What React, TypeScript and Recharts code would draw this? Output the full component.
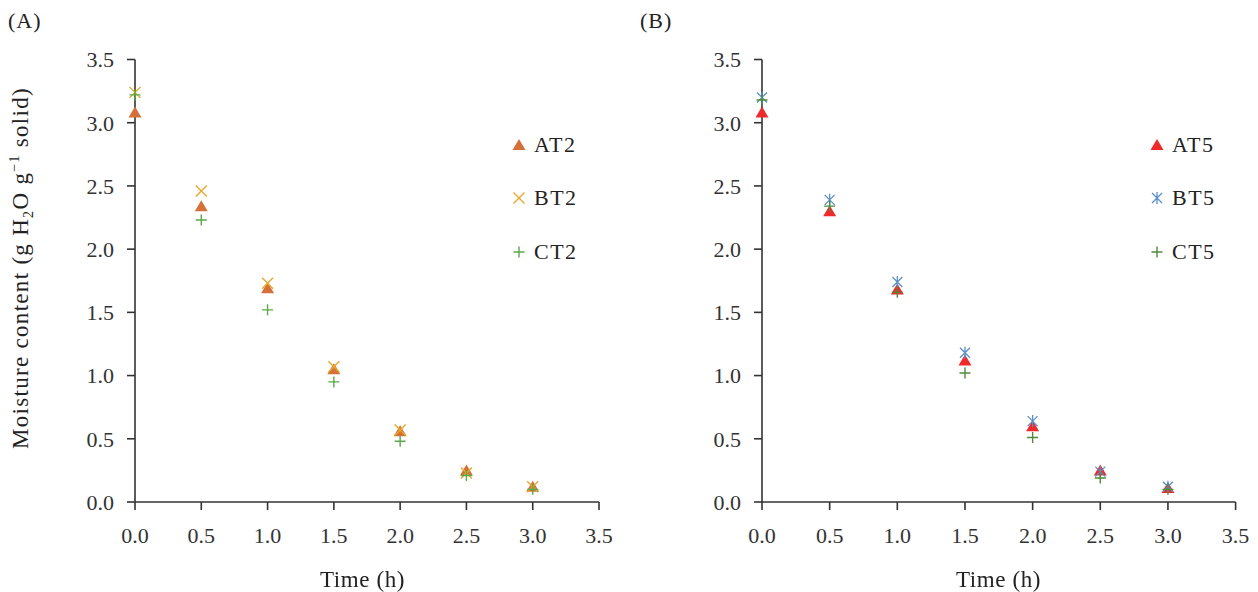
import { ScatterChart, Scatter, XAxis, YAxis } from 'recharts';

const TIMES = [0, 0.5, 1.0, 1.5, 2.0, 2.5, 3.0];
const TICKS = [0, 0.5, 1.0, 1.5, 2.0, 2.5, 3.0, 3.5];

// panel A
const AT2 = [3.08, 2.34, 1.69, 1.05, 0.56, 0.25, 0.12];
const BT2 = [3.24, 2.46, 1.73, 1.07, 0.57, 0.23, 0.12];
const CT2 = [3.22, 2.23, 1.52, 0.95, 0.48, 0.21, 0.10];
// panel B
const AT5 = [3.08, 2.30, 1.68, 1.12, 0.60, 0.25, 0.11];
const BT5 = [3.20, 2.39, 1.74, 1.18, 0.64, 0.24, 0.12];
const CT5 = [3.18, 2.34, 1.66, 1.02, 0.51, 0.19, 0.10];

const FONT = '"Liberation Serif", "DejaVu Serif", serif';
const AXIS = '#333';
const LEGEND_ROWS = [145, 198, 252];

const pts = (ys: number[]) => TIMES.map((t, i) => ({ x: t, y: ys[i] }));

type Mark = 'tri' | 'x' | 'plus' | 'star';

function Marker({ kind, cx, cy, color }: { kind: Mark; cx: number; cy: number; color: string }) {
  if (kind === 'tri') {
    return <path d={`M${cx},${cy - 6} L${cx + 6.5},${cy + 5} L${cx - 6.5},${cy + 5} Z`} fill={color} />;
  }
  if (kind === 'x') {
    return <path d={`M${cx - 5.5},${cy - 5.5} L${cx + 5.5},${cy + 5.5} M${cx + 5.5},${cy - 5.5} L${cx - 5.5},${cy + 5.5}`} stroke={color} strokeWidth={1.4} fill="none" />;
  }
  if (kind === 'plus') {
    return <path d={`M${cx - 5.5},${cy} L${cx + 5.5},${cy} M${cx},${cy - 5.5} L${cx},${cy + 5.5}`} stroke={color} strokeWidth={1.4} fill="none" />;
  }
  return <path d={`M${cx - 5},${cy - 5} L${cx + 5},${cy + 5} M${cx + 5},${cy - 5} L${cx - 5},${cy + 5} M${cx},${cy - 6} L${cx},${cy + 6}`} stroke={color} strokeWidth={1.3} fill="none" />;
}

type Series = { name: string; data: number[]; kind: Mark; color: string };

const SERIES_A: Series[] = [
  { name: 'AT2', data: AT2, kind: 'tri', color: '#d5703a' },
  { name: 'BT2', data: BT2, kind: 'x', color: '#e8a82a' },
  { name: 'CT2', data: CT2, kind: 'plus', color: '#5aa84a' },
];
const SERIES_B: Series[] = [
  { name: 'AT5', data: AT5, kind: 'tri', color: '#ee2a2a' },
  { name: 'BT5', data: BT5, kind: 'star', color: '#5b8fc8' },
  { name: 'CT5', data: CT5, kind: 'plus', color: '#4e8a3c' },
];

const tick = { fill: '#333', fontSize: 22, fontFamily: FONT };

function Panel({ left, width, yAxisW, right, series, markerX, tag, tagX, labelX }: {
  left: number; width: number; yAxisW: number; right: number; series: Series[];
  markerX: number; tag: string; tagX: number; labelX: number;
}) {
  return (
    <>
      <div style={{ position: 'absolute', left, top: 0 }}>
        <ScatterChart width={width} height={592} margin={{ top: 59.5, right, bottom: 60, left: 0 }}>
          <XAxis type="number" dataKey="x" domain={[0, 3.5]} ticks={TICKS} tickFormatter={(v: number) => v.toFixed(1)}
            tick={tick} tickSize={8} tickMargin={17} height={30} stroke={AXIS} strokeWidth={1.6} tickLine={{ stroke: AXIS, strokeWidth: 1.6 }} />
          <YAxis type="number" dataKey="y" domain={[0, 3.5]} ticks={TICKS} tickFormatter={(v: number) => v.toFixed(1)}
            tick={tick} tickSize={8} tickMargin={13} width={yAxisW} stroke={AXIS} strokeWidth={1.6} tickLine={{ stroke: AXIS, strokeWidth: 1.6 }} />
          {series.map(s => (
            <Scatter key={s.name} name={s.name} data={pts(s.data)} isAnimationActive={false}
              shape={(p: any) => <Marker kind={s.kind} cx={p.cx} cy={p.cy} color={s.color} />} />
          ))}
        </ScatterChart>
      </div>
      {series.map((s, i) => (
        <div key={s.name}>
          <svg width={20} height={20} style={{ position: 'absolute', left: markerX - 10, top: LEGEND_ROWS[i] - 10 }}>
            <Marker kind={s.kind} cx={10} cy={10} color={s.color} />
          </svg>
          <div style={{ position: 'absolute', left: markerX + 15, top: LEGEND_ROWS[i] - 11, lineHeight: '22px', fontFamily: FONT, fontSize: 22, letterSpacing: 1.5, color: '#222' }}>
            {s.name}
          </div>
        </div>
      ))}
      <div style={{ position: 'absolute', left: labelX, top: 567, fontFamily: FONT, fontSize: 23, letterSpacing: 0.6, color: '#222', whiteSpace: 'nowrap' }}>Time (h)</div>
      <div style={{ position: 'absolute', left: tagX, top: 8, fontFamily: FONT, fontSize: 22, letterSpacing: 1, color: '#222' }}>{tag}</div>
    </>
  );
}

export default function App() {
  return (
    <div style={{ position: 'fixed', left: 0, top: 0, width: 1258, height: 592, background: '#fff' }}>
      <Panel left={0} width={640} yAxisW={135} right={41} series={SERIES_A} markerX={519} tag="(A)" tagX={8} labelX={320} />
      <Panel left={640} width={618} yAxisW={122} right={22.4} series={SERIES_B} markerX={1157} tag="(B)" tagX={640} labelX={956} />
      <div style={{
        position: 'absolute', left: 22, top: 268, transform: 'translate(-50%, -50%) rotate(-90deg)',
        fontFamily: FONT, fontSize: 23, letterSpacing: 1.3, color: '#222', whiteSpace: 'nowrap',
      }}>
        Moisture content (g H<sub style={{ fontSize: 14 }}>2</sub>O g<sup style={{ fontSize: 14 }}>−1</sup> solid)
      </div>
    </div>
  );
}
